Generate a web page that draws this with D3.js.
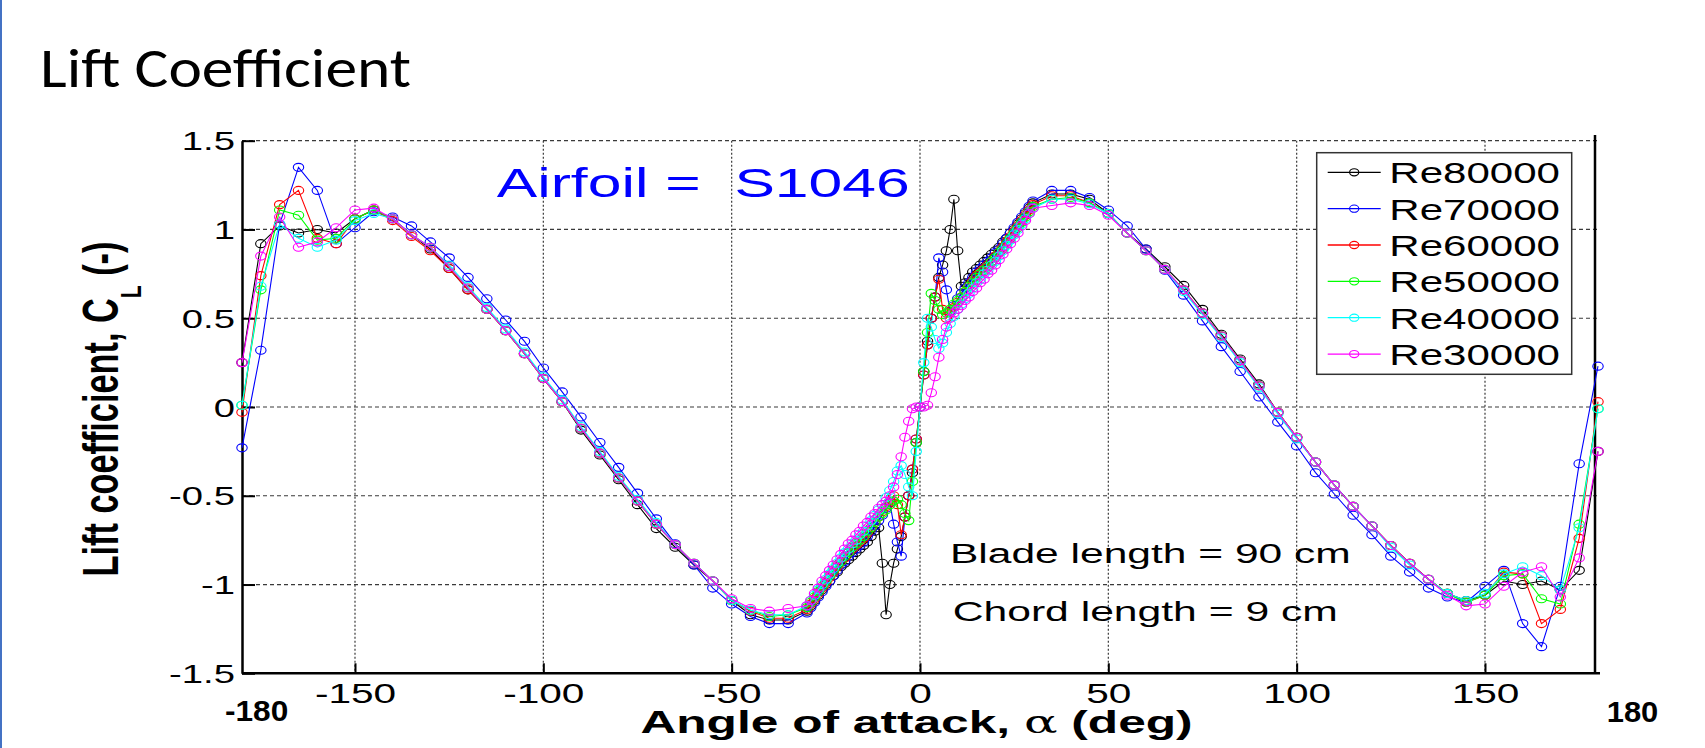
<!DOCTYPE html>
<html><head><meta charset="utf-8">
<script src="https://cdn.jsdelivr.net/npm/d3@7"></script>
<style>html,body{margin:0;padding:0;background:#fff;overflow:hidden}</style>
</head><body>
<svg id="c" width="1705" height="748" xmlns="http://www.w3.org/2000/svg"></svg>
<script>
// ---------- data (angle of attack in deg, lift coefficient) ----------
const alpha = [-180,-175,-170,-165,-160,-155,-150,-145,-140,-135,-130,-125,-120,-115,-110,-105,-100,-95,-90,-85,-80,-75,-70,-65,-60,-55,-50,-45,-40,-35,
  -30,-29,-28,-27,-26,-25,-24,-23,-22,-21,-20,-19,-18,-17,-16,-15,-14,-13,-12,-11,-10,-9,-8,-7,-6,-5,-4,-3,-2,-1,
  0,1,2,3,4,5,6,7,8,9,10,11,12,13,14,15,16,17,18,19,20,21,22,23,24,25,26,27,28,29,
  30,35,40,45,50,55,60,65,70,75,80,85,90,95,100,105,110,115,120,125,130,135,140,145,150,155,160,165,170,175,180];

const re80000 = [0.25,0.92,1.02,0.98,1.00,0.98,1.06,1.11,1.06,0.97,0.89,0.78,0.66,0.55,0.43,0.30,0.16,0.03,-0.13,-0.27,-0.41,-0.55,-0.685,-0.79,-0.89,-0.98,-1.09,-1.17,-1.20,-1.20,
  -1.15,-1.12,-1.09,-1.06,-1.03,-1.0,-0.98,-0.95,-0.93,-0.9,-0.88,-0.86,-0.84,-0.82,-0.8,-0.78,-0.76,-0.73,-0.7,-0.68,-0.88,-1.17,-1.0,-0.88,-0.8,-0.73,-0.62,-0.5,-0.37,-0.2,
  0,0.2,0.37,0.5,0.62,0.73,0.8,0.88,1.0,1.17,0.88,0.68,0.7,0.73,0.76,0.78,0.8,0.82,0.84,0.86,0.88,0.9,0.93,0.95,0.98,1.0,1.03,1.06,1.09,1.12,
  1.15,1.20,1.20,1.17,1.09,0.98,0.89,0.79,0.685,0.55,0.41,0.27,0.13,-0.03,-0.17,-0.31,-0.44,-0.56,-0.67,-0.78,-0.88,-0.97,-1.05,-1.09,-1.06,-0.98,-1.00,-0.98,-1.03,-0.92,-0.25];

const re70000 = [-0.23,0.32,1.03,1.35,1.22,0.92,1.01,1.10,1.07,1.02,0.93,0.84,0.73,0.61,0.49,0.37,0.22,0.085,-0.056,-0.20,-0.34,-0.485,-0.63,-0.77,-0.89,-1.02,-1.11,-1.18,-1.22,-1.22,
  -1.16,-1.13,-1.1,-1.07,-1.04,-1.01,-0.98,-0.95,-0.92,-0.89,-0.87,-0.84,-0.82,-0.8,-0.78,-0.76,-0.73,-0.7,-0.67,-0.64,-0.61,-0.57,-0.54,-0.66,-0.76,-0.84,-0.62,-0.5,-0.35,-0.18,
  0,0.18,0.35,0.5,0.62,0.84,0.76,0.66,0.54,0.57,0.61,0.64,0.67,0.7,0.73,0.76,0.78,0.8,0.82,0.84,0.87,0.89,0.92,0.95,0.98,1.01,1.04,1.07,1.1,1.13,
  1.16,1.22,1.22,1.18,1.11,1.02,0.89,0.77,0.63,0.485,0.34,0.20,0.056,-0.085,-0.22,-0.37,-0.49,-0.61,-0.72,-0.84,-0.93,-1.02,-1.07,-1.10,-1.01,-0.92,-1.22,-1.35,-1.01,-0.32,0.23];

const re60000 = [-0.03,0.74,1.14,1.22,0.95,0.92,1.06,1.11,1.05,0.96,0.88,0.78,0.66,0.55,0.43,0.30,0.16,0.03,-0.12,-0.26,-0.40,-0.53,-0.66,-0.775,-0.88,-0.98,-1.09,-1.15,-1.19,-1.19,
  -1.14,-1.11,-1.08,-1.05,-1.02,-0.99,-0.96,-0.93,-0.9,-0.87,-0.85,-0.82,-0.8,-0.78,-0.76,-0.74,-0.71,-0.68,-0.65,-0.62,-0.59,-0.56,-0.53,-0.5,-0.55,-0.72,-0.62,-0.5,-0.35,-0.18,
  0,0.18,0.35,0.5,0.62,0.72,0.55,0.5,0.53,0.56,0.59,0.62,0.65,0.68,0.71,0.74,0.76,0.78,0.8,0.82,0.85,0.87,0.9,0.93,0.96,0.99,1.02,1.05,1.08,1.11,
  1.14,1.19,1.19,1.15,1.09,0.98,0.88,0.775,0.66,0.53,0.40,0.26,0.12,-0.03,-0.17,-0.31,-0.44,-0.56,-0.67,-0.78,-0.88,-0.97,-1.05,-1.10,-1.06,-0.93,-0.94,-1.22,-1.14,-0.74,0.03];

const re50000 = [0.01,0.66,1.11,1.08,0.94,0.95,1.06,1.11,1.06,0.97,0.90,0.79,0.67,0.55,0.43,0.30,0.16,0.03,-0.12,-0.26,-0.40,-0.53,-0.66,-0.775,-0.88,-0.98,-1.09,-1.145,-1.18,-1.17,
  -1.13,-1.1,-1.07,-1.04,-1.01,-0.98,-0.95,-0.92,-0.89,-0.87,-0.84,-0.82,-0.79,-0.77,-0.75,-0.73,-0.7,-0.68,-0.65,-0.62,-0.6,-0.58,-0.55,-0.53,-0.52,-0.55,-0.6,-0.64,-0.42,-0.2,
  0,0.2,0.42,0.64,0.6,0.55,0.52,0.53,0.55,0.58,0.6,0.62,0.65,0.68,0.7,0.73,0.75,0.77,0.79,0.82,0.84,0.87,0.89,0.92,0.95,0.98,1.01,1.04,1.07,1.1,
  1.13,1.17,1.18,1.15,1.09,0.98,0.88,0.775,0.66,0.53,0.40,0.26,0.12,-0.03,-0.17,-0.31,-0.44,-0.56,-0.67,-0.78,-0.88,-0.97,-1.05,-1.10,-1.06,-0.95,-0.94,-1.08,-1.11,-0.66,-0.01];

const re40000 = [0.01,0.68,1.03,0.95,0.90,0.94,1.05,1.09,1.06,0.97,0.90,0.80,0.68,0.56,0.44,0.31,0.17,0.04,-0.11,-0.25,-0.39,-0.52,-0.65,-0.775,-0.88,-0.98,-1.09,-1.145,-1.17,-1.17,
  -1.12,-1.09,-1.06,-1.03,-1.0,-0.97,-0.94,-0.91,-0.88,-0.85,-0.82,-0.8,-0.77,-0.75,-0.72,-0.7,-0.67,-0.64,-0.61,-0.58,-0.55,-0.51,-0.47,-0.42,-0.36,-0.33,-0.38,-0.45,-0.5,-0.25,
  0,0.25,0.5,0.45,0.38,0.33,0.36,0.42,0.47,0.51,0.55,0.58,0.61,0.64,0.67,0.7,0.72,0.75,0.77,0.8,0.82,0.85,0.88,0.91,0.94,0.97,1.0,1.03,1.06,1.09,
  1.12,1.17,1.17,1.145,1.09,0.98,0.88,0.775,0.65,0.52,0.39,0.25,0.11,-0.04,-0.18,-0.31,-0.44,-0.56,-0.67,-0.79,-0.89,-0.97,-1.05,-1.09,-1.05,-0.94,-0.90,-0.95,-1.03,-0.68,-0.01];

const re30000 = [0.25,0.85,1.07,0.90,0.93,1.01,1.11,1.12,1.06,0.97,0.90,0.79,0.67,0.55,0.43,0.30,0.16,0.03,-0.12,-0.26,-0.40,-0.53,-0.66,-0.775,-0.88,-0.98,-1.08,-1.135,-1.15,-1.135,
  -1.12,-1.09,-1.05,-1.02,-0.98,-0.95,-0.92,-0.89,-0.86,-0.83,-0.8,-0.77,-0.75,-0.72,-0.7,-0.67,-0.65,-0.62,-0.6,-0.57,-0.55,-0.53,-0.5,-0.45,-0.38,-0.28,-0.17,-0.08,-0.01,0.0,
  0,0.0,0.01,0.08,0.17,0.28,0.38,0.45,0.5,0.53,0.55,0.57,0.6,0.62,0.65,0.67,0.7,0.72,0.75,0.77,0.8,0.83,0.86,0.89,0.92,0.95,0.98,1.02,1.05,1.09,
  1.12,1.135,1.15,1.135,1.08,0.98,0.88,0.775,0.66,0.53,0.40,0.26,0.12,-0.03,-0.17,-0.31,-0.44,-0.56,-0.67,-0.78,-0.88,-0.97,-1.06,-1.12,-1.11,-1.01,-0.93,-0.90,-1.07,-0.85,-0.25];

const seriesNames  = ["Re80000","Re70000","Re60000","Re50000","Re40000","Re30000"];
const seriesValues = [re80000, re70000, re60000, re50000, re40000, re30000];
const seriesColors = ["#000000","#0000ff","#ff0000","#00ff00","#00ffff","#ff00ff"];
const xTicks = [-150,-100,-50,0,50,100,150];
const yTicks = [-1.5,-1,-0.5,0,0.5,1,1.5];

// ---------- drawing ----------
const W = 1705, H = 748;
const MAT = "'Liberation Sans', Arial, Helvetica, sans-serif";
const svg = d3.select("#c");
svg.append("rect").attr("width", W).attr("height", H).attr("fill", "#fff");
svg.append("line").attr("x1", 1).attr("x2", 1).attr("y1", 0).attr("y2", H)
  .attr("stroke", "#4472c4").attr("stroke-width", 2);

const x = d3.scaleLinear().domain([-180, 180]).range([242, 1598]);
const y = d3.scaleLinear().domain([-1.5, 1.5]).range([673.3, 140.7]);

function fitted(parent, o) {
  const g = parent.append("g");
  const t = g.append("text").attr("x", 0).attr("y", 0)
    .style("font-family", o.family || MAT).style("font-size", o.size + "px")
    .style("font-weight", o.weight || "normal").style("white-space", "pre")
    .attr("fill", o.color || "#000").text(o.text);
  const w = t.node().getComputedTextLength();
  const s = (o.x1 - o.x0) / w;
  g.attr("transform", `translate(${o.x0},${o.baseline}) scale(${s},1)`);
  return g;
}

// Title
fitted(svg, {text: "Lift Coefficient", x0: 40, x1: 411, baseline: 87, size: 56,
  family: "Carlito, Lato, 'Open Sans', sans-serif"});

// grid
const grid = svg.append("g");
grid.selectAll("line.h").data(yTicks.filter(d => d > -1.5)).join("line")
  .attr("x1", x(-180)).attr("x2", 1600).attr("y1", d => y(d)).attr("y2", d => y(d))
  .attr("stroke", "#3a3a3a").attr("stroke-width", 1.2).attr("stroke-dasharray", "4,3");
grid.selectAll("line.v").data(xTicks).join("line")
  .attr("x1", d => x(d)).attr("x2", d => x(d)).attr("y1", y(1.5)).attr("y2", y(-1.5))
  .attr("stroke", "#3a3a3a").attr("stroke-width", 1.2).attr("stroke-dasharray", "2,2");

// axes
const yAxis = svg.append("g").attr("transform", `translate(${x(-180)},0)`)
  .call(d3.axisLeft(y).tickValues(yTicks).tickSize(-13).tickSizeOuter(0).tickFormat(d => String(d)));
const xAxis = svg.append("g").attr("transform", `translate(0,${y(-1.5)})`)
  .call(d3.axisBottom(x).tickValues(xTicks).tickSize(-10).tickSizeOuter(0).tickFormat(d => String(d)));
[yAxis, xAxis].forEach(a => {
  a.select(".domain").attr("stroke", "#000").attr("stroke-width", 2.5);
  a.selectAll(".tick line").attr("stroke", "#000").attr("stroke-width", 2);
  a.selectAll("text").attr("fill", "#000").style("font-family", MAT);
});
yAxis.selectAll("text").attr("x", 0).attr("dy", 0).attr("text-anchor", "end")
  .style("font-size", "25.5px").attr("transform", "translate(-7,9.1) scale(1.5,1)");
xAxis.selectAll("text").attr("y", 0).attr("dy", 0).attr("text-anchor", "middle")
  .style("font-size", "28px").attr("transform", "translate(0,29.7) scale(1.45,1)");
xAxis.select(".domain").attr("d", `M${x(-180)},0H1600`);

// right border
svg.append("line").attr("x1", 1595).attr("x2", 1595).attr("y1", 135).attr("y2", y(-1.5))
  .attr("stroke", "#000").attr("stroke-width", 2.5);

// series
const line = d3.line().x(d => x(d[0])).y(d => y(d[1]));
const plot = svg.append("g");
seriesValues.forEach((vals, i) => {
  const pts = alpha.map((a, k) => [a, vals[k]]);
  const g = plot.append("g");
  g.append("path").datum(pts).attr("d", line).attr("fill", "none")
    .attr("stroke", seriesColors[i]).attr("stroke-width", 1.1);
  g.selectAll("ellipse").data(pts).join("ellipse")
    .attr("cx", d => x(d[0])).attr("cy", d => y(d[1])).attr("rx", 5.2).attr("ry", 4)
    .attr("fill", "none").attr("stroke", seriesColors[i]).attr("stroke-width", 1.1);
});

// annotations
fitted(svg, {text: "Airfoil =  S1046", x0: 496.7, x1: 910, baseline: 196.7, size: 40, color: "#0000ff"});
fitted(svg, {text: "Blade length = 90 cm", x0: 950, x1: 1350.7, baseline: 563.3, size: 28});
fitted(svg, {text: "Chord length = 9 cm", x0: 952.7, x1: 1338, baseline: 620.7, size: 28});
fitted(svg, {text: "-180", x0: 225, x1: 288.3, baseline: 720.7, size: 29, weight: "bold"});
fitted(svg, {text: "180", x0: 1606.7, x1: 1658.3, baseline: 721.7, size: 29, weight: "bold"});

// x label
const xl = fitted(svg, {text: "Angle of attack, ", x0: 0, x1: 1, baseline: 0, size: 31, weight: "bold"});
xl.remove();
{
  const g = svg.append("g");
  const t = g.append("text").attr("x", 0).attr("y", 0).style("font-family", MAT)
    .style("font-size", "31px").style("font-weight", "bold").style("white-space", "pre").attr("fill", "#000");
  t.append("tspan").text("Angle of attack, ");
  t.append("tspan").style("font-weight", "normal").style("font-family", "'DejaVu Serif', serif").text("α");
  t.append("tspan").text(" (deg)");
  const w = t.node().getComputedTextLength();
  g.attr("transform", `translate(640.4,733.3) scale(${552.4 / w},1)`);
}

// y label (rotated)
{
  const g = svg.append("g");
  const t = g.append("text").attr("x", 0).attr("y", 0).attr("text-anchor", "middle")
    .style("font-family", MAT).style("font-size", "34px").style("font-weight", "bold")
    .style("white-space", "pre").attr("fill", "#000");
  t.append("tspan").text("Lift coefficient, C");
  t.append("tspan").attr("dy", 16).style("font-size", "21px").text("L");
  t.append("tspan").attr("dy", -16).text(" (-)");
  const len = t.node().getComputedTextLength();
  const k = 335 / len;
  g.attr("transform", `translate(118,409) scale(1.43,${1}) rotate(-90) scale(${k})`);
}

// legend
const lg = svg.append("g");
lg.append("rect").attr("x", 1316.7).attr("y", 152.7).attr("width", 255).attr("height", 221.6)
  .attr("fill", "#fff").attr("stroke", "#333").attr("stroke-width", 1.5);
seriesNames.forEach((n, i) => {
  const cy = 172.3 + i * 36.35;
  lg.append("line").attr("x1", 1327.7).attr("x2", 1380.7).attr("y1", cy).attr("y2", cy)
    .attr("stroke", seriesColors[i]).attr("stroke-width", 1.3);
  lg.append("ellipse").attr("cx", 1354.2).attr("cy", cy).attr("rx", 4.6).attr("ry", 3.6)
    .attr("fill", "none").attr("stroke", seriesColors[i]).attr("stroke-width", 1.1);
  fitted(lg, {text: n, x0: 1389.3, x1: 1560, baseline: cy + 10.9, size: 30});
});
</script>
</body></html>
